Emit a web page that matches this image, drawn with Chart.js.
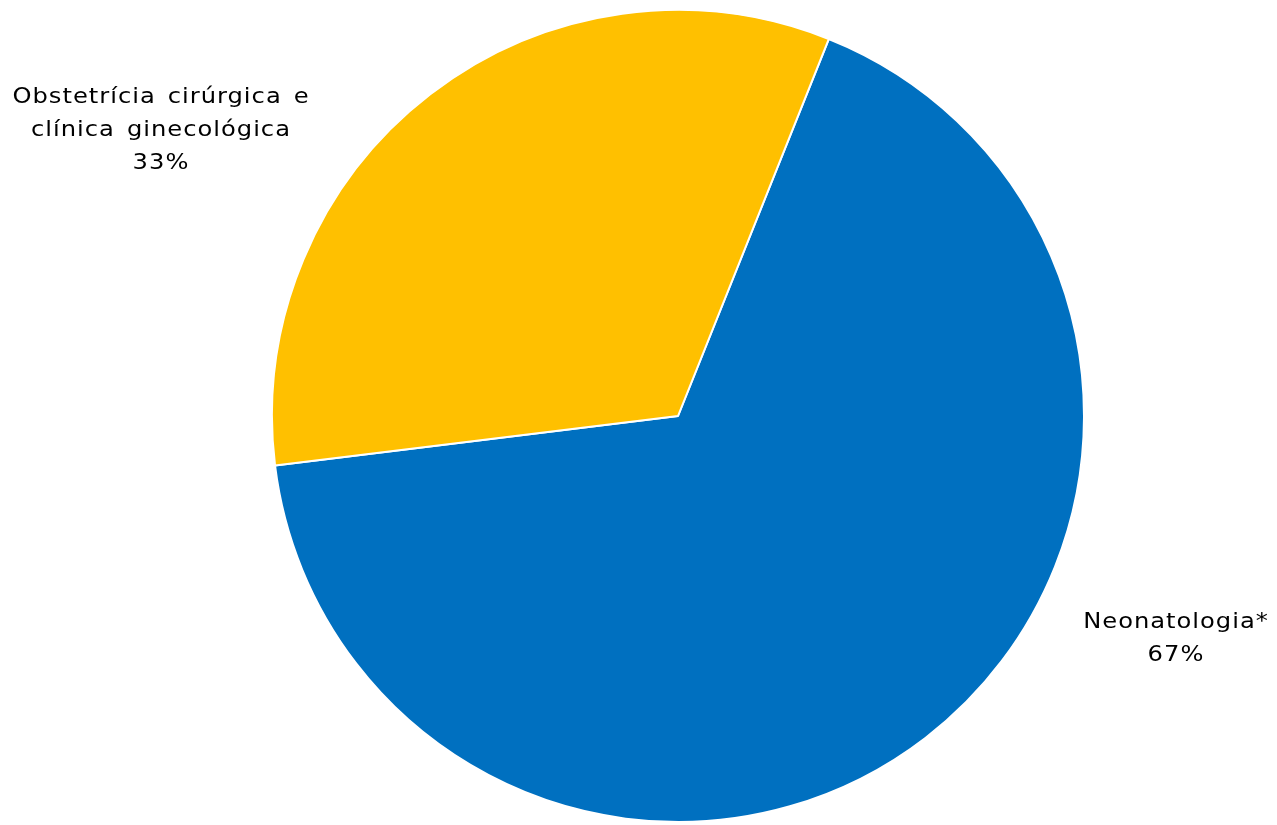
<!DOCTYPE html>
<html>
<head>
<meta charset="utf-8">
<script src="https://cdn.jsdelivr.net/npm/chart.js@4"></script>
<style>
  html, body { margin: 0; padding: 0; background: #fff; }
  #wrap { width: 1277px; height: 825px; }
</style>
</head>
<body>
<div id="wrap"><canvas id="pieChart"></canvas></div>
<script>
// Categories and shares (%)
const categories = ['Neonatologia*', 'Obstetrícia cirúrgica e clínica ginecológica'];
const shares = [67, 33];
const labelLines = [
  ['Neonatologia*', '67%'],
  ['Obstetrícia cirúrgica e', 'clínica ginecológica', '33%']
];
const sliceColors = ['#0070C0', '#FFC000'];

// Label text drawn outside the pie (centre of each text block)
// DejaVu is narrower than the Verdana-like original, so widen it a bit
const labelPlugin = {
  id: 'outsideLabels',
  afterDatasetsDraw(chart, args, opts) {
    const ctx = chart.ctx;
    ctx.save();
    ctx.font = '22px "DejaVu Sans"';
    ctx.letterSpacing = '0.9px';
    ctx.wordSpacing = '3px';
    ctx.fillStyle = '#000';
    ctx.textAlign = 'center';
    ctx.textBaseline = 'middle';
    opts.positions.forEach((p, i) => {
      const lines = labelLines[i];
      const lh = 33;
      const top = p.y - (lines.length - 1) * lh / 2;
      lines.forEach((t, j) => {
        ctx.save();
        ctx.translate(p.x, top + j * lh);
        ctx.scale(opts.stretch, 1);
        ctx.fillText(t, 0, 0);
        ctx.restore();
      });
    });
    ctx.restore();
  }
};

const ctx = document.getElementById('pieChart').getContext('2d');
new Chart(ctx, {
  type: 'pie',
  data: {
    labels: categories,
    datasets: [{
      data: shares,
      backgroundColor: sliceColors,
      borderColor: '#ffffff',
      borderWidth: 2
    }]
  },
  options: {
    responsive: true,
    maintainAspectRatio: false,
    animation: false,
    rotation: 21.8,
    layout: { padding: { top: 9, bottom: 2, left: 150, right: 71 } },
    plugins: {
      legend: { display: false },
      tooltip: { enabled: false },
      outsideLabels: {
        stretch: 1.1,
        positions: [{ x: 1176, y: 639 }, { x: 161, y: 130 }]
      }
    }
  },
  plugins: [labelPlugin]
});
</script>
</body>
</html>
